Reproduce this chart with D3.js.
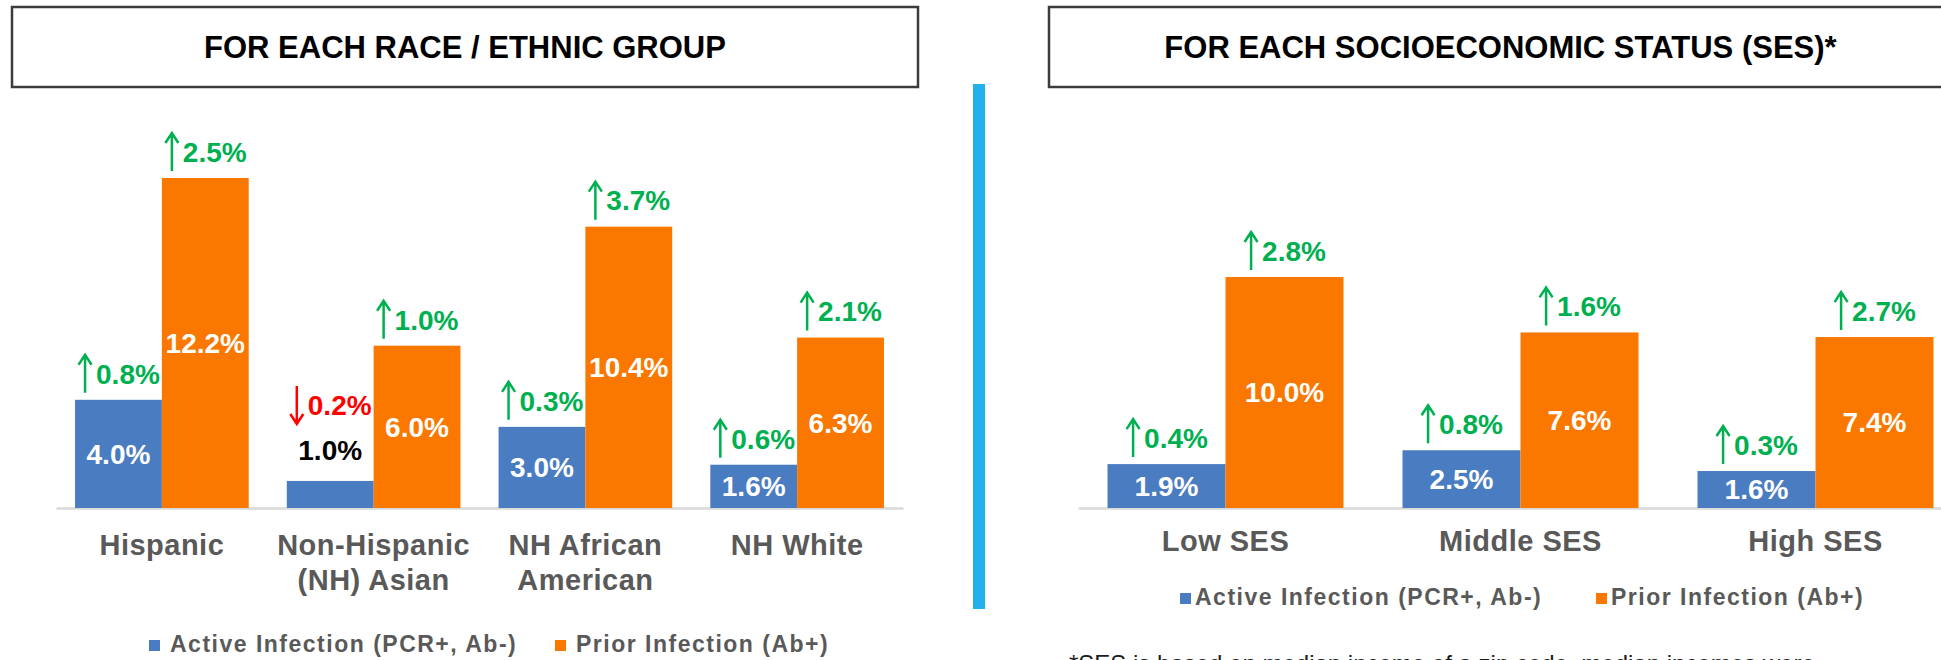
<!DOCTYPE html>
<html>
<head>
<meta charset="utf-8">
<script src="https://cdn.jsdelivr.net/npm/d3@7"></script>
<style>
  body { margin: 0; background: #fff; }
  svg { display: block; font-family: "Liberation Sans", Arial, sans-serif; }
</style>
</head>
<body>
<svg id="chart" width="1941" height="660"></svg>
<script>
// values
const seriesNames = ["Active Infection (PCR+, Ab-)", "Prior Infection (Ab+)"];

const raceCats = ["Hispanic", "Non-Hispanic\n(NH) Asian", "NH African\nAmerican", "NH White"];
const raceActive = [4.0, 1.0, 3.0, 1.6];
const racePrior = [12.2, 6.0, 10.4, 6.3];
const raceActiveChange = [0.8, -0.2, 0.3, 0.6];
const racePriorChange = [2.5, 1.0, 3.7, 2.1];

const sesCats = ["Low SES", "Middle SES", "High SES"];
const sesActive = [1.9, 2.5, 1.6];
const sesPrior = [10.0, 7.6, 7.4];
const sesActiveChange = [0.4, 0.8, 0.3];
const sesPriorChange = [2.8, 1.6, 2.7];

const titles = ["FOR EACH RACE / ETHNIC GROUP", "FOR EACH SOCIOECONOMIC STATUS (SES)*"];
const footnote = "*SES is based on median income of a zip code, median incomes were";

const blue = "#4a7cc2", orange = "#fa7800", green = "#00b050", red = "#ff0000", grey = "#595959";

const svg = d3.select("#chart");

function titleBox(x0, x1, label) {
    svg.append("rect")
        .attr("x", x0).attr("y", 7)
        .attr("width", x1 - x0).attr("height", 80)
        .attr("fill", "#fff")
        .attr("stroke", "#3c3c3c")
        .attr("stroke-width", 2.5);
    svg.append("text")
        .attr("x", (x0 + x1) / 2).attr("y", 58)
        .attr("text-anchor", "middle")
        .attr("font-size", 31).attr("font-weight", "bold")
        .attr("fill", "#000")
        .text(label);
}

function drawPanel(p) {
    var rows = p.cats.map((c, i) => ({
        cat: c,
        bars: [
            { key: "active", value: p.active[i], change: p.activeChange[i] },
            { key: "prior", value: p.prior[i], change: p.priorChange[i] }
        ]
    }));

    var y = d3.scaleLinear().domain([0, p.yMax]).range([508, 508 - p.pxPerUnit * p.yMax]);
    var x0 = d3.scaleBand().domain(p.cats).range(p.xRange)
        .paddingInner(p.padIn).paddingOuter(p.padIn / 2);
    var x1 = d3.scaleBand().domain(["active", "prior"]).range([0, x0.bandwidth()]);
    var color = d3.scaleOrdinal().domain(["active", "prior"]).range([blue, orange]);

    // axis (baseline + category labels)
    var axis = svg.append("g")
        .attr("transform", "translate(0,508)")
        .call(d3.axisBottom(x0).tickSize(0));
    axis.select(".domain").attr("stroke", "#d9d9d9").attr("stroke-width", 2.5);
    axis.selectAll(".tick text").each(function(d) {
        var t = d3.select(this);
        t.text(null).attr("dy", null).attr("y", p.labelY)
            .attr("font-family", "Liberation Sans, Arial, sans-serif")
            .attr("font-size", 29).attr("font-weight", "bold")
            .attr("letter-spacing", 0.5)
            .attr("fill", grey);
        d.split("\n").forEach((line, k) => {
            t.append("tspan").attr("x", 0).attr("dy", k ? 35 : 0).text(line);
        });
    });

    var groups = svg.append("g").selectAll("g")
        .data(rows).join("g")
        .attr("transform", d => `translate(${x0(d.cat)},0)`);

    groups.selectAll("rect")
        .data(d => d.bars).join("rect")
        .attr("x", d => x1(d.key))
        .attr("y", d => y(d.value))
        .attr("width", x1.bandwidth())
        .attr("height", d => y(0) - y(d.value))
        .attr("fill", d => color(d.key));

    groups.selectAll("g.lab")
        .data(d => d.bars).join("g")
        .attr("class", "lab")
        .each(function(d) {
            var g = d3.select(this);
            var cx = x1(d.key) + x1.bandwidth() / 2;
            var top = y(d.value);
            var h = y(0) - top;
            var inside = h > 30;
            var labY = inside ? top + h / 2 : top - 31;
            g.append("text")
                .attr("x", cx).attr("y", labY).attr("dy", "0.35em")
                .attr("text-anchor", "middle")
                .attr("font-size", 28).attr("font-weight", "bold")
                .attr("fill", inside ? "#fff" : "#000")
                .text(d.value.toFixed(1) + "%");

            // change annotation: arrow + value
            var ay = inside ? top - 26 : labY - 45;
            var col = d.change >= 0 ? green : red;
            var txt = g.append("text")
                .attr("y", ay).attr("dy", "0.35em")
                .attr("font-size", 28).attr("font-weight", "bold")
                .attr("fill", col)
                .text(Math.abs(d.change).toFixed(1) + "%");
            var w = txt.node().getComputedTextLength();
            var total = 8 + 11 + w;
            var ax = cx - total / 2 + 8;
            txt.attr("x", ax + 11);
            var y0 = ay - 19, y1 = ay + 19;
            var path = d.change >= 0
                ? `M${ax},${y1}V${y0 + 1}M${ax - 6.5},${y0 + 10}L${ax},${y0}L${ax + 6.5},${y0 + 10}`
                : `M${ax},${y0}V${y1 - 1}M${ax - 6.5},${y1 - 10}L${ax},${y1}L${ax + 6.5},${y1 - 10}`;
            g.append("path").attr("d", path)
                .attr("fill", "none").attr("stroke", col)
                .attr("stroke-width", 2.5);
        });

    // legend
    var leg = svg.append("g").selectAll("g")
        .data(seriesNames).join("g")
        .attr("transform", (d, i) => `translate(${p.legendX[i]},${p.legendY})`);
    leg.append("rect")
        .attr("x", 0).attr("y", -12)
        .attr("width", 11).attr("height", 11)
        .attr("fill", (d, i) => [blue, orange][i]);
    leg.append("text")
        .attr("x", p.legendGap).attr("y", 0)
        .attr("font-size", 23).attr("font-weight", "bold")
        .attr("letter-spacing", 1.5)
        .attr("fill", grey)
        .text(d => d);
}

titleBox(12, 918, titles[0]);
titleBox(1049, 1952, titles[1]);

// divider
svg.append("rect")
    .attr("x", 973).attr("y", 84)
    .attr("width", 12).attr("height", 525)
    .attr("fill", "#23b1ec");

drawPanel({
    cats: raceCats, active: raceActive, prior: racePrior,
    activeChange: raceActiveChange, priorChange: racePriorChange,
    yMax: 14, pxPerUnit: 27.05, xRange: [56, 903], padIn: 0.18,
    labelY: 47, legendX: [149, 555], legendY: 652, legendGap: 21
});

drawPanel({
    cats: sesCats, active: sesActive, prior: sesPrior,
    activeChange: sesActiveChange, priorChange: sesPriorChange,
    yMax: 12, pxPerUnit: 23.1, xRange: [1078, 1963], padIn: 0.2,
    labelY: 43, legendX: [1180, 1596], legendY: 605, legendGap: 15
});

svg.append("text")
    .attr("x", 1069).attr("y", 672)
    .attr("font-size", 24)
    .attr("fill", "#1a1a1a")
    .text(footnote);
</script>
</body>
</html>
